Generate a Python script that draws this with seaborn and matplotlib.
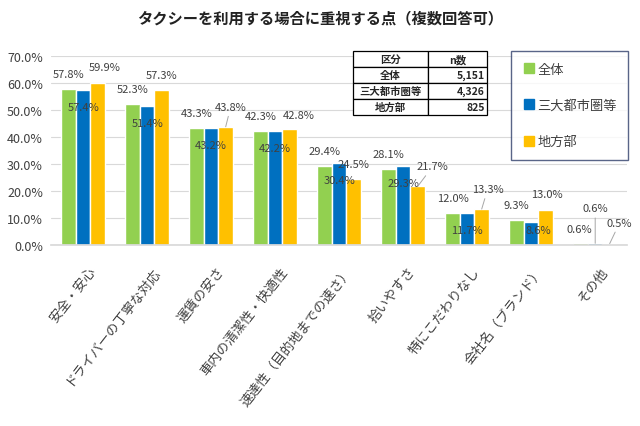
import matplotlib
matplotlib.use("Agg")
import matplotlib.pyplot as plt
from matplotlib.lines import Line2D
from matplotlib.ticker import FuncFormatter
from matplotlib.transforms import ScaledTranslation
import seaborn as sns
import pandas as pd

# data (percent)
categories = ["安全・安心", "ドライバーの丁寧な対応", "運賃の安さ", "車内の清潔性・快適性",
              "速達性（目的地までの速さ）", "拾いやすさ", "特にこだわりなし", "会社名（ブランド）", "その他"]
series = ["全体", "三大都市圏等", "地方部"]
zentai = [57.8, 52.3, 43.3, 42.3, 29.4, 28.1, 12.0, 9.3, 0.6]
sandai = [57.4, 51.4, 43.2, 42.2, 30.4, 29.3, 11.7, 8.6, 0.6]
chiho = [59.9, 57.3, 43.8, 42.8, 24.5, 21.7, 13.3, 13.0, 0.5]

table_rows = ["全体", "三大都市圏等", "地方部"]
table_n = ["5,151", "4,326", "825"]

colors = ["#92D050", "#0070C0", "#FFC000"]

df = pd.DataFrame({
    "項目": categories * 3,
    "区分": [s for s in series for _ in categories],
    "割合": zentai + sandai + chiho,
})

sns.set_theme(style="white")
plt.rcParams["font.family"] = ["Noto Sans CJK JP", "DejaVu Sans"]

fig = plt.figure(figsize=(6.4, 4.27), dpi=100)
ax = fig.add_axes([0.08, 0.424, 0.90, 0.4425])

sns.barplot(data=df, x="項目", y="割合", hue="区分", palette=colors,
            width=0.68, gap=0, saturation=1, ax=ax, legend=False)

ax.set_ylim(0, 70)
ax.set_xlim(-0.5, len(categories) - 0.5)
ax.set_yticks(range(0, 71, 10))
ax.yaxis.set_major_formatter(FuncFormatter(lambda v, p: f"{v:.1f}%"))
ax.yaxis.grid(True, color="#D9D9D9", lw=0.8)
ax.set_axisbelow(True)
for s in ["top", "right", "left"]:
    ax.spines[s].set_visible(False)
ax.spines["bottom"].set_color("#D9D9D9")
ax.set_xlabel("")
ax.set_ylabel("")
ax.tick_params(axis="y", labelsize=9, colors="#404040", length=0, pad=6)
ax.tick_params(axis="x", labelsize=9.5, colors="#404040", length=0, pad=14)
plt.setp(ax.get_xticklabels(), rotation=52, ha="right", rotation_mode="anchor")
shift = ScaledTranslation(5 / 100, 0, fig.dpi_scale_trans)
for lab in ax.get_xticklabels():
    lab.set_transform(lab.get_transform() + shift)

# data labels: default offsets (pixels) per series, with a few adjustments
default_off = [(0, 15), (0, -17), (0, 15)]
label_off = {
    (2, 0): (7, 16), (2, 2): (5, 20), (2, 3): (9, 14), (2, 5): (15, 20),
    (2, 6): (6, 20), (2, 7): (1, 16), (2, 8): (10, 21),
    (1, 7): (7, -8), (1, 8): (0, 35), (0, 8): (-1, 14),
}
leaders = {(2, 2), (2, 5), (2, 6), (2, 8), (1, 8)}
values = [zentai, sandai, chiho]
for si, cont in enumerate(ax.containers):
    for ci, bar in enumerate(cont):
        x = bar.get_x() + bar.get_width() / 2
        v = values[si][ci]
        dx, dy = label_off.get((si, ci), default_off[si])
        arrow = dict(arrowstyle="-", color="#A6A6A6", lw=0.7, shrinkA=1, shrinkB=0) \
            if (si, ci) in leaders else None
        ax.annotate(f"{v:.1f}%", xy=(x, v), xytext=(dx, dy), textcoords="offset pixels",
                    ha="center", va="center", fontsize=8, color="#404040",
                    arrowprops=arrow, zorder=5)

fig.text(0.5, 0.957, "タクシーを利用する場合に重視する点（複数回答可）",
         ha="center", va="center", fontsize=11, fontweight="bold", color="#222222")

# legend
handles = [Line2D([], [], marker="s", ls="", markersize=6.5, color=c) for c in colors]
leg = fig.legend(handles, series, loc="upper left", bbox_to_anchor=(0.798, 0.878),
                 frameon=True, fancybox=False, fontsize=9.5, labelspacing=1.75,
                 handletextpad=0.1, handlelength=1.0, borderpad=0.9, borderaxespad=0)
leg.get_frame().set_edgecolor("#2F3E6B")
leg.get_frame().set_linewidth(1.0)
for t in leg.get_texts():
    t.set_color("#404040")

# n table
tax = fig.add_axes([353 / 640, 1 - 116 / 427, 134 / 640, 64 / 427])
tax.axis("off")
cells = [[r, n] for r, n in zip(table_rows, table_n)]
tbl = tax.table(cellText=[["区分", "n数"]] + cells, bbox=[0, 0, 1, 1],
                colWidths=[0.56, 0.44], cellLoc="center")
tbl.auto_set_font_size(False)
for (r, c), cell in tbl.get_celld().items():
    cell.set_edgecolor("black")
    cell.set_linewidth(0.9)
    cell.get_text().set_fontsize(7.5)
    cell.get_text().set_fontweight("bold")
    if r > 0 and c == 1:
        cell.get_text().set_ha("right")
        cell.PAD = 0.04

fig.savefig("out.png", dpi=100)
